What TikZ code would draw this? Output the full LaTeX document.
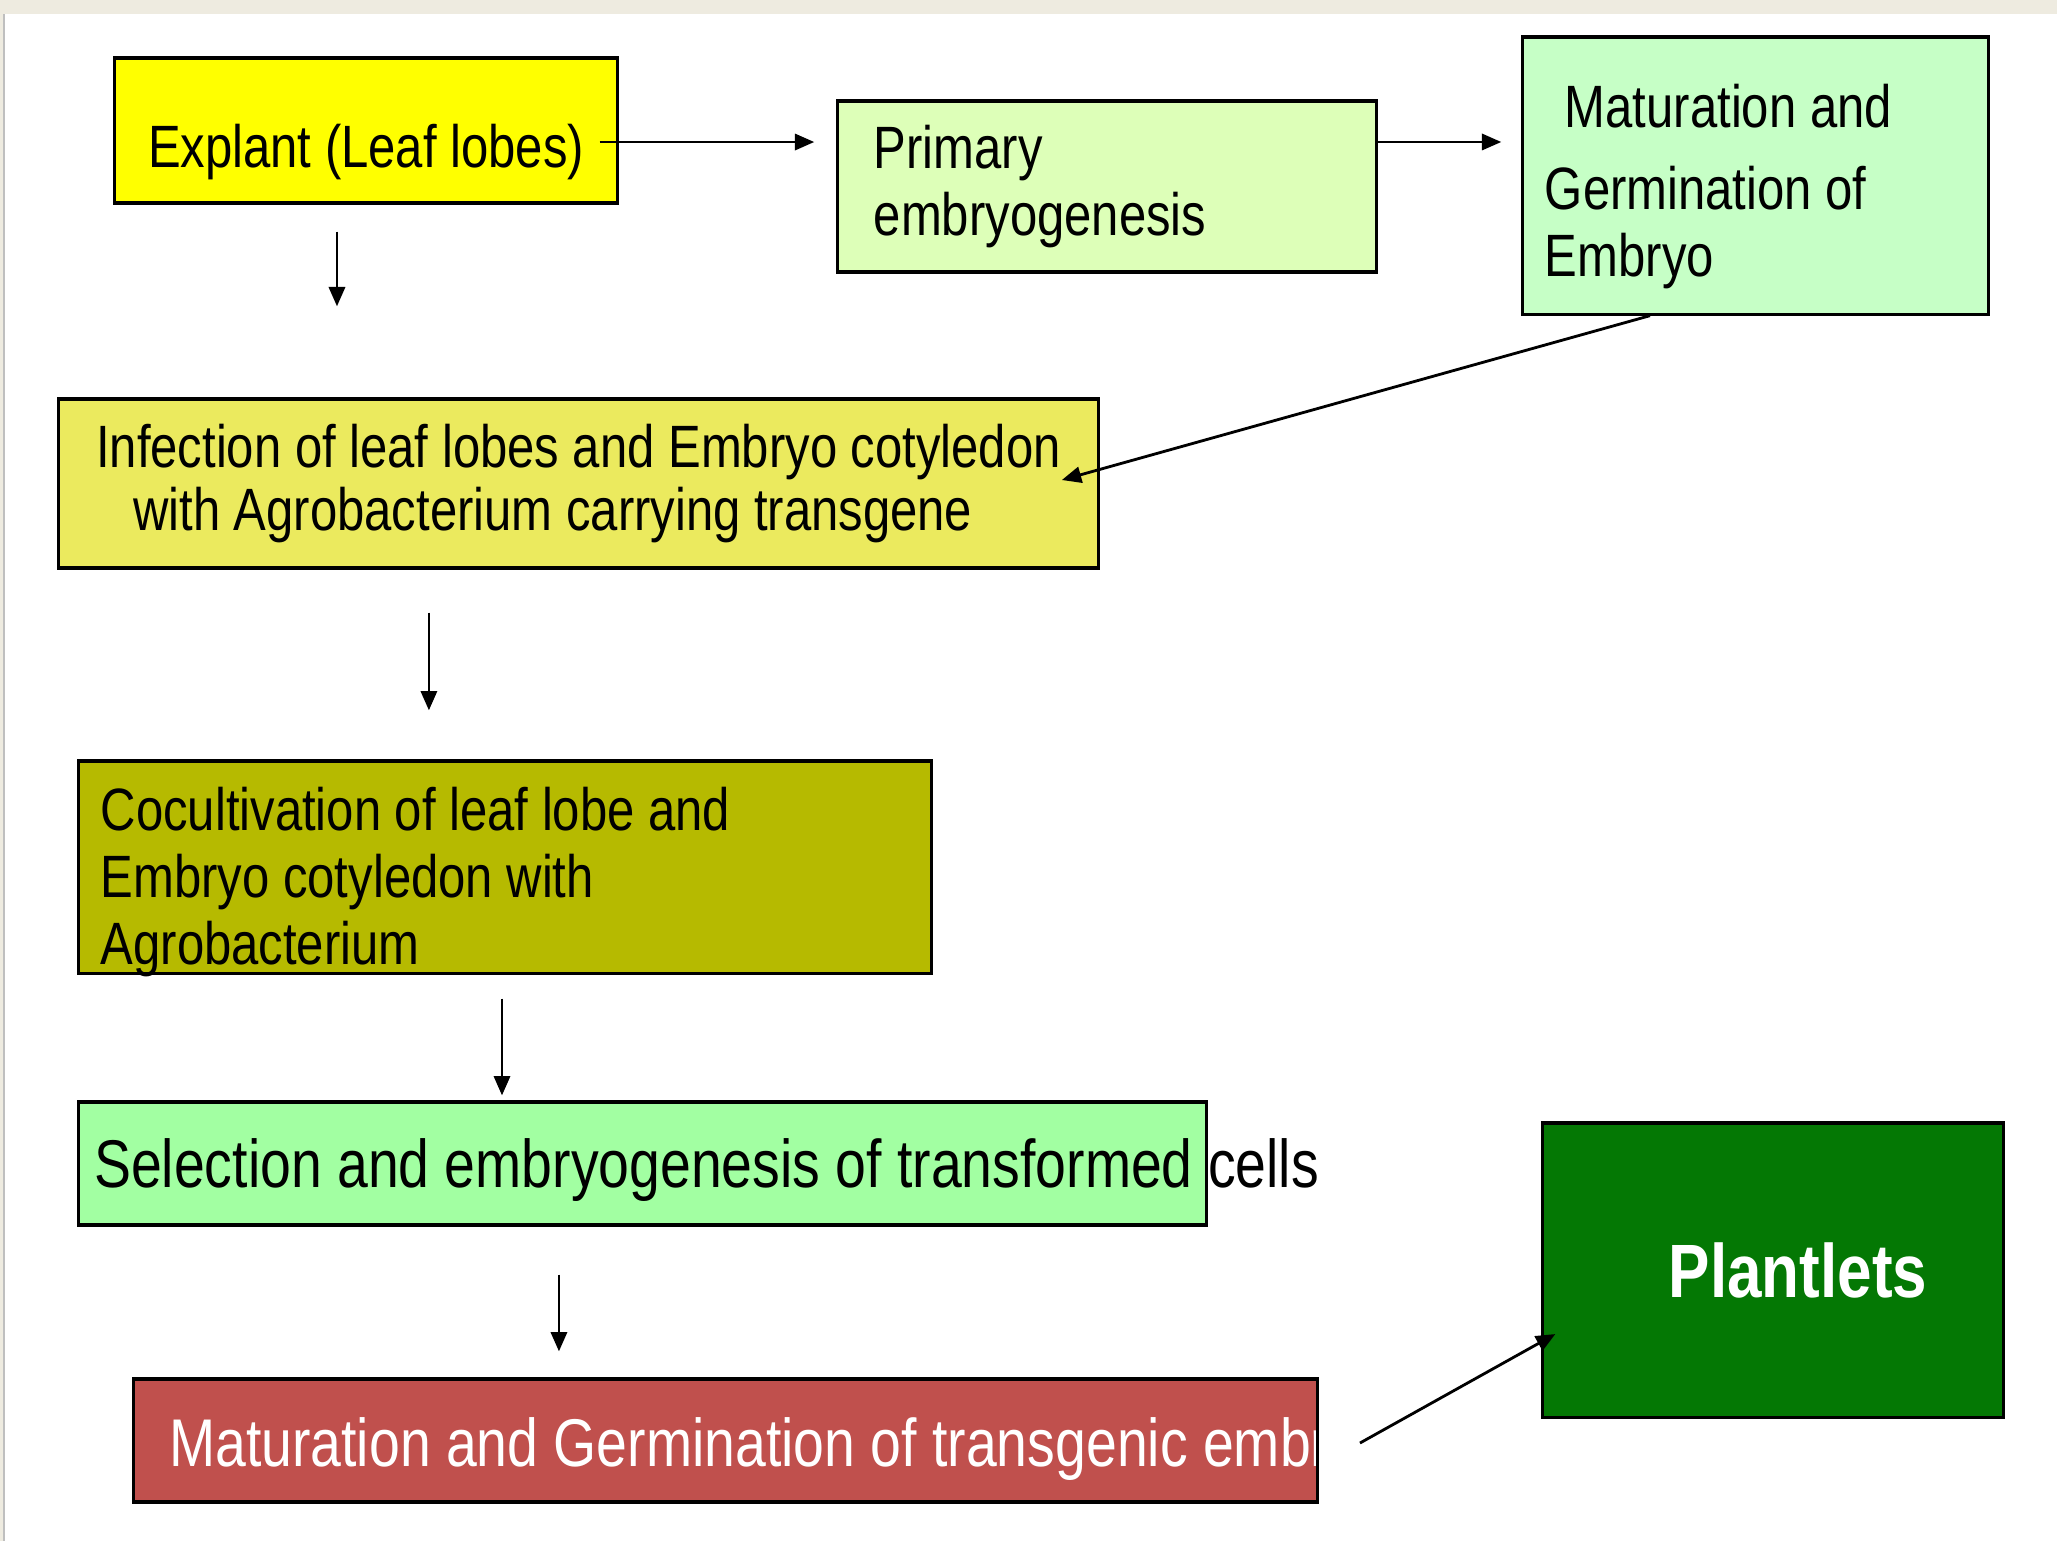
\documentclass[tikz,border=0pt]{standalone}
\usepackage{fontspec}
\setmainfont{Liberation Sans}[FakeStretch=0.82]
\usetikzlibrary{arrows.meta}
\definecolor{stripBg}{HTML}{EEEBE0}
\definecolor{explFill}{HTML}{FFFF00}
\definecolor{primFill}{HTML}{DDFFB8}
\definecolor{matFill}{HTML}{C6FFC6}
\definecolor{infFill}{HTML}{EBEA5E}
\definecolor{cocFill}{HTML}{B6BA00}
\definecolor{selFill}{HTML}{A2FFA2}
\definecolor{tgFill}{HTML}{C0504D}
\definecolor{plantFill}{HTML}{047804}

\begin{document}
\begin{tikzpicture}[x=0.01cm, y=-0.01cm,
        box/.style={draw=black, line width=0.9pt, font=\fontsize{17}{19}\selectfont},
        bigtxt/.style={font=\fontsize{19.2}{22}\selectfont},
        arr/.style={-{Triangle[length=5.5pt, width=4.6pt]}, line width=0.8pt}]
        \useasboundingbox (0,0) rectangle (2057,1541);
        \fill[stripBg] (0,0) rectangle (2057,14);
        \fill[stripBg] (0,14) rectangle (4,1541);
        \draw[black!25, line width=0.4pt] (4,14) -- (4,1541);
        \node[box, fill=explFill, minimum width=5.02cm, minimum height=1.45cm, text height=21pt, text depth=0pt] (explant) at (366,130.5) {Explant (Leaf lobes)};
        \node[box, fill=primFill, inner xsep=.36cm, text width=4.66cm, minimum height=1.71cm, align=flush left] (primary) at (1107,186.5) {Primary\\embryogenesis};
        \node[box, fill=matFill, inner xsep=.22cm, text width=4.21cm, minimum height=2.77cm, align=flush left, text height=18.5pt] (mature) at (1755.5,175.5) {\hspace*{.2cm}Maturation and\\[4.5pt] Germination of\\ Embryo};
        \node[box, fill=infFill, font=\fontsize{17}{18}\selectfont, minimum width=10.39cm, minimum height=1.69cm, align=flush left, yshift=0pt] (infect) at (578.5,483.5) {Infection of leaf lobes and Embryo cotyledon\\\hspace*{.37cm}with Agrobacterium carrying transgene};
        \node[box, fill=cocFill, inner xsep=.22cm, text width=8.08cm, minimum height=2.12cm, align=flush left, text height=0pt, text depth=20.5pt] (cocult) at (505,867) {Cocultivation of leaf lobe and\\Embryo cotyledon with\\Agrobacterium};
        \node[box, bigtxt, fill=selFill, inner xsep=.155cm, minimum width=11.27cm, minimum height=1.23cm, text depth=0pt] (select) at (642.5,1163.5) {\makebox[10.96cm][l]{Selection and embryogenesis of transformed cells}};
        \node[box, fill=tgFill, minimum width=11.83cm, minimum height=1.23cm, path picture={
              \node[bigtxt, text=white, anchor=west, inner sep=0pt] (tgtxt) at ([xshift=.34cm, yshift=-.09cm]path picture bounding box.west) {Maturation and Germination of transgenic embryos};}] (bottom) at (725.5,1440.5) {};
        \node[box, fill=plantFill, text=white, font=\fontsize{21.5}{24}\selectfont\bfseries, minimum width=4.60cm, minimum height=2.94cm] (plant) at (1773,1270) {\hspace*{.5cm}Plantlets};
        \draw[arr, shorten <=-.19cm, shorten >=.22cm] ([yshift=-.115cm]explant.east) -- ([yshift=-.115cm]explant.east -| primary.west);
        \draw[arr, shorten >=.2cm] ([yshift=.445cm]primary.east) -- ([yshift=.445cm]primary.east -| mature.west);
        \draw[arr, shorten <=.27cm, shorten >=.91cm] ([xshift=-.29cm]explant.south) -- ([xshift=-.29cm]explant.south |- infect.north);
        \draw[arr] ([xshift=-1.055cm]mature.south) -- ([xshift=-.38cm, yshift=.035cm]infect.east);
        \draw[arr, shorten <=.43cm, shorten >=.49cm] ([xshift=-1.495cm]infect.south) -- ([xshift=-1.495cm]infect.south |- cocult.north);
        \draw[arr, shorten <=.24cm, shorten >=.05cm] ([xshift=-.03cm]cocult.south) -- ([xshift=-.03cm]cocult.south |- select.north);
        \draw[arr, shorten <=.48cm, shorten >=.26cm] ([xshift=-.835cm]select.south) -- ([xshift=-.835cm]select.south |- bottom.north);
        \draw[arr] ([xshift=.41cm, yshift=-.025cm]bottom.east) -- ([xshift=.14cm, yshift=-.64cm]plant.west);
\end{tikzpicture}
\end{document}
